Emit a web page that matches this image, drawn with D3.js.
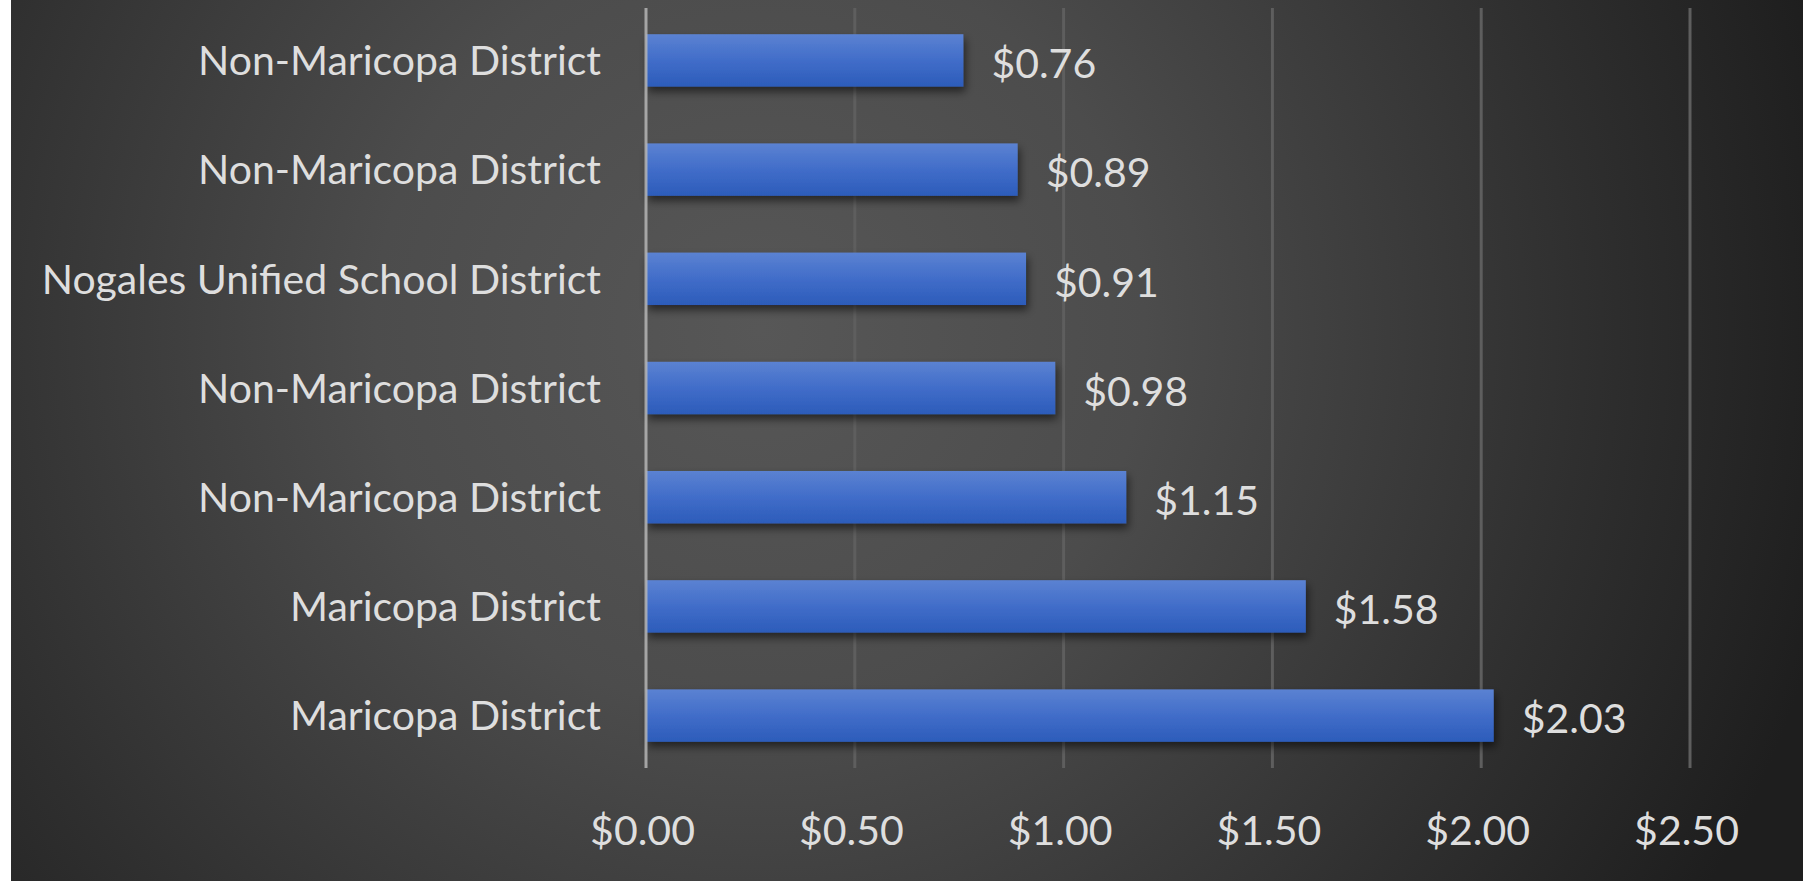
<!DOCTYPE html>
<html>
<head>
<meta charset="utf-8">
<script src="https://cdn.jsdelivr.net/npm/d3@7"></script>
<style>
  html, body { margin: 0; padding: 0; background: #fff; }
  svg { display: block; }
</style>
</head>
<body>
<div id="chart"></div>
<script>
const districts = [
  "Non-Maricopa District",
  "Non-Maricopa District",
  "Nogales Unified School District",
  "Non-Maricopa District",
  "Non-Maricopa District",
  "Maricopa District",
  "Maricopa District"
];
const costs = [0.76, 0.89, 0.91, 0.98, 1.15, 1.58, 2.03];
const tickValues = [0, 0.5, 1, 1.5, 2, 2.5];

const W = 1803, H = 881;
const margin = {top: 8, right: 113, bottom: 113, left: 646};
const plotW = W - margin.left - margin.right;
const plotH = H - margin.top - margin.bottom;
const fontFamily = "Lato, 'Open Sans', sans-serif";
const fontSize = "41px";
const textColor = "#dedede";

const svg = d3.select("#chart").append("svg")
    .attr("width", W)
    .attr("height", H);

const defs = svg.append("defs");

// background radial gradient
const bg = defs.append("radialGradient")
    .attr("id", "bgGrad")
    .attr("gradientUnits", "userSpaceOnUse")
    .attr("cx", 760).attr("cy", 330).attr("r", 1100);
bg.append("stop").attr("offset", "0%").attr("stop-color", "#575757");
bg.append("stop").attr("offset", "35%").attr("stop-color", "#4c4c4c");
bg.append("stop").attr("offset", "75%").attr("stop-color", "#2f2f2f");
bg.append("stop").attr("offset", "100%").attr("stop-color", "#1e1e1e");

// bar gradient
const barGrad = defs.append("linearGradient")
    .attr("id", "barGrad")
    .attr("x1", 0).attr("y1", 0).attr("x2", 0).attr("y2", 1);
barGrad.append("stop").attr("offset", "0%").attr("stop-color", "#5b82d2");
barGrad.append("stop").attr("offset", "50%").attr("stop-color", "#416dc9");
barGrad.append("stop").attr("offset", "100%").attr("stop-color", "#2c5cba");

const shadow = defs.append("filter")
    .attr("id", "shadow")
    .attr("x", "-5%").attr("y", "-20%").attr("width", "110%").attr("height", "160%");
shadow.append("feDropShadow")
    .attr("dx", 2).attr("dy", 5).attr("stdDeviation", 4)
    .attr("flood-color", "#000").attr("flood-opacity", 0.55);

svg.append("rect")
    .attr("x", 11).attr("y", 0)
    .attr("width", W - 11).attr("height", H)
    .attr("fill", "url(#bgGrad)");

const g = svg.append("g")
    .attr("transform", "translate(" + margin.left + "," + margin.top + ")");

const xScale = d3.scaleLinear()
    .domain([0, 2.5])
    .range([0, plotW]);

const yScale = d3.scaleBand()
    .domain(d3.range(districts.length))
    .range([0, plotH])
    .paddingInner(0.52)
    .paddingOuter(0.24);

// gridlines
g.append("g")
    .selectAll("line")
    .data(tickValues.slice(1))
    .enter()
    .append("line")
    .attr("x1", d => xScale(d)).attr("x2", d => xScale(d))
    .attr("y1", 0).attr("y2", plotH)
    .attr("stroke", "#5e5e5e")
    .attr("stroke-width", 3);

// bars
g.append("g")
    .selectAll("rect")
    .data(costs)
    .enter()
    .append("rect")
    .attr("x", xScale(0))
    .attr("y", (d, i) => yScale(i))
    .attr("width", d => xScale(d) - xScale(0))
    .attr("height", yScale.bandwidth())
    .attr("fill", "url(#barGrad)")
    .attr("filter", "url(#shadow)");

// value axis baseline
g.append("line")
    .attr("x1", xScale(0)).attr("x2", xScale(0))
    .attr("y1", 0).attr("y2", plotH)
    .attr("stroke", "#b5b5b5")
    .attr("stroke-opacity", 0.85)
    .attr("stroke-width", 3);

// value labels
g.append("g")
    .selectAll("text")
    .data(costs)
    .enter()
    .append("text")
    .attr("x", d => xScale(d) + 28)
    .attr("y", (d, i) => yScale(i) + yScale.bandwidth() / 2 + 3)
    .attr("dy", "0.36em")
    .attr("fill", textColor)
    .style("font-family", fontFamily)
    .style("font-size", fontSize)
    .text(d => "$" + d.toFixed(2));

// category axis
const yAxis = d3.axisLeft(yScale)
    .tickSize(0)
    .tickPadding(45)
    .tickFormat(i => districts[i]);

const yAxisG = g.append("g").call(yAxis);
yAxisG.select(".domain").remove();
yAxisG.selectAll("text")
    .attr("fill", textColor)
    .attr("dy", "0.36em")
    .style("font-family", fontFamily)
    .style("font-size", fontSize);

// x axis
const xAxis = d3.axisBottom(xScale)
    .tickValues(tickValues)
    .tickSize(0)
    .tickPadding(48)
    .tickFormat(d => "$" + d.toFixed(2));

const xAxisG = g.append("g")
    .attr("transform", "translate(0," + plotH + ")")
    .call(xAxis);
xAxisG.select(".domain").remove();
xAxisG.selectAll("text")
    .attr("fill", textColor)
    .attr("dx", -4)
    .style("font-family", fontFamily)
    .style("font-size", fontSize);
</script>
</body>
</html>
